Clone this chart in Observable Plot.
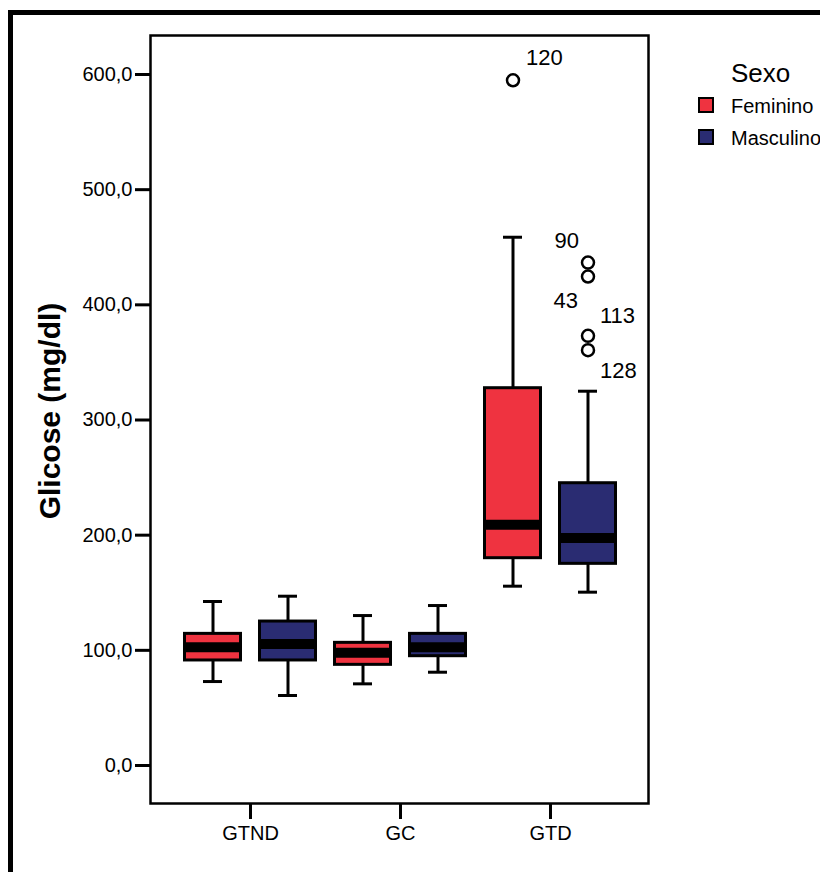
<!DOCTYPE html>
<html>
<head>
<meta charset="utf-8">
<script src="https://cdn.jsdelivr.net/npm/d3@7"></script>
<script src="https://cdn.jsdelivr.net/npm/@observablehq/plot@0.6"></script>
<style>
  html, body { margin: 0; padding: 0; background: #fff; }
  body { width: 820px; height: 872px; overflow: hidden; position: relative; font-family: "Liberation Sans", Arial, sans-serif; }
  #chart { position: absolute; left: 0; top: 0; }
  #outer { position: absolute; left: 8px; top: 10px; width: 2000px; height: 2000px; border-top: 5px solid #000; border-left: 5px solid #000; pointer-events: none; }
  #ytitle { position: absolute; left: 50px; top: 411px; transform: translate(-50%, -50%) rotate(-90deg); font-weight: bold; font-size: 30px; white-space: nowrap; color: #000; }
  #legend { position: absolute; left: 698px; top: 58px; color: #000; white-space: nowrap; }
  #legend .ttl { position: absolute; left: 33px; top: 0px; font-size: 26px; }
  #legend .item { position: absolute; left: 0; font-size: 20px; line-height: 20px; }
  #legend .sw { position: absolute; left: 0; top: 1px; width: 12px; height: 12px; border: 2.5px solid #000; }
  #legend .lab { position: absolute; left: 33px; top: 0; }
</style>
</head>
<body>
<div id="chart"></div>
<div id="outer"></div>
<div id="ytitle">Glicose (mg/dl)</div>
<div id="legend"></div>
<script>
// ---- data ----
const groups = ["GTND", "GC", "GTD"];
const sexes = ["Feminino", "Masculino"];
const sexColors = ["#ef3340", "#2a2c72"];

const femLow    = [72.9, 70.9, 155.7];
const femQ1     = [91.2, 87.4, 180.0];
const femMedian = [102.7, 98.0, 209.0];
const femQ3     = [114.3, 106.5, 327.6];
const femHigh   = [142.4, 130.2, 458.7];

const masLow    = [60.8, 81.0, 150.5];
const masQ1     = [91.2, 94.9, 175.1];
const masMedian = [105.5, 102.7, 197.5];
const masQ3     = [125.0, 114.3, 245.1];
const masHigh   = [147.0, 138.9, 325.0];

const outlierGroup = ["GTD", "GTD", "GTD", "GTD", "GTD"];
const outlierSex   = ["Feminino", "Masculino", "Masculino", "Masculino", "Masculino"];
const outlierValue = [595.0, 436.7, 424.6, 373.1, 360.6];
const outlierId    = ["120", "90", "43", "113", "128"];

const yTicks = [0, 100, 200, 300, 400, 500, 600];

// ---- build tables ----
function boxes(low, q1, med, q3, high) {
  return groups.map((g, i) => ({group: g, lo: low[i], q1: q1[i], med: med[i], q3: q3[i], hi: high[i]}));
}
const fem = boxes(femLow, femQ1, femMedian, femQ3, femHigh);
const mas = boxes(masLow, masQ1, masMedian, masQ3, masHigh);
const outliers = outlierValue.map((v, i) => ({group: outlierGroup[i], sex: outlierSex[i], value: v, id: outlierId[i]}));

// styling per sex (offsets inside each group band)
const style = {
  Feminino:  {dx: -37.5, box: [9.5, 84.5], med: [8, 83], cap: [28, 103], fill: sexColors[0]},
  Masculino: {dx: 37.5,  box: [84.5, 9.5], med: [83, 8], cap: [103, 28], fill: sexColors[1]}
};
// label placement relative to each outlier circle
const labelPos = {
  "120": {dx: 13, dy: -22, anchor: "start"},
  "90":  {dx: -9, dy: -22, anchor: "end"},
  "43":  {dx: -10, dy: 24, anchor: "end"},
  "113": {dx: 12, dy: -20, anchor: "start"},
  "128": {dx: 12, dy: 21, anchor: "start"}
};

function boxMarks(data, sex) {
  const s = style[sex];
  return [
    Plot.ruleX(data, {x: "group", y1: "q3", y2: "hi", dx: s.dx, stroke: "#000", strokeWidth: 3}),
    Plot.ruleX(data, {x: "group", y1: "lo", y2: "q1", dx: s.dx, stroke: "#000", strokeWidth: 3}),
    Plot.tickY(data, {x: "group", y: "hi", insetLeft: s.cap[0], insetRight: s.cap[1], stroke: "#000", strokeWidth: 3}),
    Plot.tickY(data, {x: "group", y: "lo", insetLeft: s.cap[0], insetRight: s.cap[1], stroke: "#000", strokeWidth: 3}),
    Plot.barY(data, {x: "group", y1: "q1", y2: "q3", fill: s.fill, stroke: "#000", strokeWidth: 3, insetLeft: s.box[0], insetRight: s.box[1]}),
    Plot.tickY(data, {x: "group", y: "med", insetLeft: s.med[0], insetRight: s.med[1], stroke: "#000", strokeWidth: 10})
  ];
}

const outlierMarks = [];
for (const o of outliers) {
  const s = style[o.sex];
  outlierMarks.push(Plot.dot([o], {x: "group", y: "value", dx: s.dx, r: 6, fill: "none", stroke: "#000", strokeWidth: 2.5}));
  const lp = labelPos[o.id];
  outlierMarks.push(Plot.text([o], {x: "group", y: "value", text: "id", dx: s.dx + lp.dx, dy: lp.dy, textAnchor: lp.anchor, fontSize: 22, fill: "#000"}));
}

const chart = Plot.plot({
  width: 820,
  height: 872,
  marginLeft: 150,
  marginRight: 172,
  marginTop: 35,
  marginBottom: 69,
  style: {fontFamily: "'Liberation Sans', Arial, sans-serif", fontSize: "20px", color: "#000", background: "#fff", overflow: "visible"},
  x: {type: "band", domain: groups, range: [175, 625], padding: 0},
  y: {domain: [0, 600], range: [765, 74]},
  marks: [
    Plot.frame({stroke: "#000", strokeWidth: 2.5}),
    Plot.axisY({ticks: yTicks, tickFormat: d => d.toFixed(1).replace(".", ","), tickSize: 15, tickPadding: 3, strokeWidth: 3, fontSize: 20, label: null}),
    Plot.axisX({tickSize: 16, tickPadding: 6, strokeWidth: 3, fontSize: 20, label: null}),
    ...boxMarks(fem, "Feminino"),
    ...boxMarks(mas, "Masculino"),
    ...outlierMarks
  ]
});
document.getElementById("chart").appendChild(chart);

// legend
const leg = document.getElementById("legend");
const t = document.createElement("div");
t.className = "ttl"; t.textContent = "Sexo";
leg.appendChild(t);
sexes.forEach((s, i) => {
  const it = document.createElement("div");
  it.className = "item";
  it.style.top = (38 + i * 32) + "px";
  const sw = document.createElement("div");
  sw.className = "sw"; sw.style.background = sexColors[i];
  const lb = document.createElement("div");
  lb.className = "lab"; lb.textContent = s;
  it.appendChild(sw); it.appendChild(lb);
  leg.appendChild(it);
});
</script>
</body>
</html>
